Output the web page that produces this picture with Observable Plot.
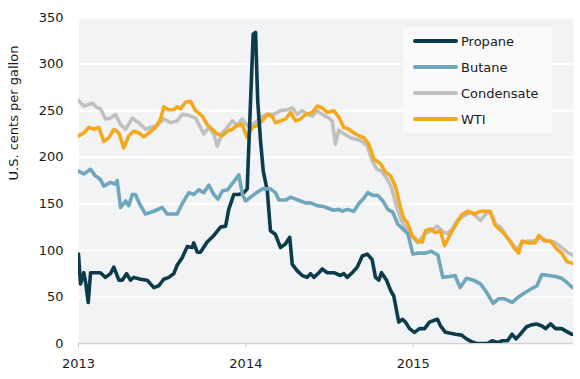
<!DOCTYPE html>
<html>
<head>
<meta charset="utf-8">
<script src="https://cdn.jsdelivr.net/npm/d3@7"></script>
<script src="https://cdn.jsdelivr.net/npm/@observablehq/plot@0.6"></script>
<style>
  html, body { margin: 0; padding: 0; background: #ffffff; }
  #wrap { position: relative; width: 580px; height: 379px; font-family: "DejaVu Sans", sans-serif; }
  #legend { position: absolute; left: 403px; top: 27px; width: 149px; height: 106px; background: #fafafa; }
  .row { position: absolute; left: 0; height: 20px; display: flex; align-items: center; }
  .sw { width: 45px; height: 4px; border-radius: 2px; margin-left: 10px; }
  .lb { margin-left: 3px; font-size: 13px; color: #1a1a1a; white-space: nowrap; }
</style>
</head>
<body>
<div id="wrap"></div>
<script>
// ---- data (decimal year, U.S. cents per gallon) ----
const seriesNames = ["Propane", "Butane", "Condensate", "WTI"];
const seriesColors = ["#0c3c4b", "#6ea7bb", "#c0c0c0", "#f6a81c"];
const yTicks = [0, 50, 100, 150, 200, 250, 300, 350];
const xTickYears = [2013, 2014, 2015];
const yLabel = "U.S. cents per gallon";

const propaneYear = [2013.000, 2013.012, 2013.032, 2013.044, 2013.058, 2013.072, 2013.101, 2013.131, 2013.161, 2013.191, 2013.211, 2013.241, 2013.261, 2013.287, 2013.310, 2013.330, 2013.370, 2013.410, 2013.450, 2013.479, 2013.509, 2013.539, 2013.569, 2013.589, 2013.619, 2013.649, 2013.679, 2013.688, 2013.709, 2013.728, 2013.768, 2013.808, 2013.848, 2013.878, 2013.897, 2013.927, 2013.957, 2013.987, 2014.007, 2014.027, 2014.043, 2014.057, 2014.070, 2014.087, 2014.103, 2014.127, 2014.146, 2014.176, 2014.206, 2014.236, 2014.261, 2014.276, 2014.306, 2014.336, 2014.365, 2014.385, 2014.405, 2014.435, 2014.455, 2014.485, 2014.524, 2014.564, 2014.584, 2014.604, 2014.634, 2014.664, 2014.694, 2014.724, 2014.753, 2014.773, 2014.793, 2014.809, 2014.839, 2014.863, 2014.882, 2014.912, 2014.934, 2014.952, 2014.976, 2015.006, 2015.036, 2015.066, 2015.095, 2015.125, 2015.143, 2015.161, 2015.191, 2015.221, 2015.251, 2015.287, 2015.316, 2015.346, 2015.376, 2015.406, 2015.442, 2015.469, 2015.501, 2015.531, 2015.561, 2015.588, 2015.612, 2015.633, 2015.651, 2015.675, 2015.704, 2015.734, 2015.764, 2015.788, 2015.818, 2015.848, 2015.884, 2015.913, 2015.943, 2015.958];
const propaneCents = [96, 64, 76, 64, 44, 76, 76, 76, 71, 75, 82, 68, 68, 75, 68, 71, 69, 68, 60, 62, 69, 71, 75, 84, 92, 104, 103, 108, 98, 98, 109, 116, 125, 126, 144, 160, 160, 162, 166, 260, 332, 334, 260, 217, 185, 164, 121, 117, 103, 107, 114, 85, 78, 73, 71, 75, 71, 76, 80, 76, 76, 73, 75, 71, 76, 82, 94, 96, 90, 71, 68, 76, 68, 57, 51, 23, 26, 23, 16, 12, 16, 16, 23, 25, 26, 19, 12, 11, 10, 9, 5, 2, 0, 0, 0, 3, 1, 3, 3, 10, 5, 9, 13, 18, 20, 21, 19, 16, 21, 16, 16, 13, 10, 10];

const butaneYear = [2013.000, 2013.032, 2013.072, 2013.101, 2013.131, 2013.151, 2013.191, 2013.221, 2013.231, 2013.251, 2013.281, 2013.300, 2013.321, 2013.340, 2013.370, 2013.400, 2013.450, 2013.500, 2013.530, 2013.589, 2013.619, 2013.659, 2013.688, 2013.718, 2013.748, 2013.778, 2013.808, 2013.833, 2013.860, 2013.890, 2013.919, 2013.937, 2013.957, 2013.979, 2013.997, 2014.027, 2014.063, 2014.099, 2014.146, 2014.176, 2014.196, 2014.236, 2014.266, 2014.296, 2014.325, 2014.355, 2014.385, 2014.425, 2014.464, 2014.494, 2014.524, 2014.554, 2014.574, 2014.604, 2014.644, 2014.673, 2014.703, 2014.727, 2014.757, 2014.787, 2014.817, 2014.847, 2014.876, 2014.906, 2014.936, 2014.966, 2014.996, 2015.026, 2015.066, 2015.106, 2015.145, 2015.175, 2015.215, 2015.248, 2015.278, 2015.316, 2015.358, 2015.400, 2015.436, 2015.475, 2015.507, 2015.546, 2015.588, 2015.627, 2015.669, 2015.707, 2015.737, 2015.766, 2015.806, 2015.848, 2015.884, 2015.913, 2015.949];
const butaneCents = [185, 182, 187, 180, 176, 169, 173, 171, 175, 146, 153, 148, 160, 160, 148, 139, 142, 146, 139, 139, 150, 162, 160, 165, 162, 170, 160, 155, 164, 165, 172, 176, 181, 160, 153, 157, 162, 166, 166, 162, 154, 154, 157, 155, 153, 151, 151, 148, 147, 145, 143, 144, 142, 144, 142, 150, 156, 162, 159, 159, 153, 144, 141, 128, 123, 118, 96, 97, 97, 99, 95, 71, 72, 73, 60, 70, 68, 64, 55, 43, 48, 48, 44, 50, 55, 59, 62, 74, 73, 72, 70, 66, 60];

const condensateYear = [2013.000, 2013.032, 2013.082, 2013.112, 2013.131, 2013.161, 2013.191, 2013.221, 2013.251, 2013.281, 2013.321, 2013.360, 2013.400, 2013.430, 2013.470, 2013.509, 2013.549, 2013.589, 2013.619, 2013.659, 2013.699, 2013.728, 2013.748, 2013.778, 2013.808, 2013.828, 2013.858, 2013.888, 2013.918, 2013.947, 2013.977, 2014.007, 2014.037, 2014.067, 2014.097, 2014.127, 2014.166, 2014.206, 2014.246, 2014.276, 2014.306, 2014.336, 2014.365, 2014.395, 2014.425, 2014.455, 2014.485, 2014.515, 2014.534, 2014.554, 2014.594, 2014.638, 2014.684, 2014.724, 2014.753, 2014.783, 2014.809, 2014.837, 2014.867, 2014.897, 2014.927, 2014.956, 2014.986, 2015.026, 2015.066, 2015.106, 2015.141, 2015.175, 2015.203, 2015.231, 2015.261, 2015.300, 2015.340, 2015.370, 2015.400, 2015.430, 2015.460, 2015.490, 2015.519, 2015.559, 2015.589, 2015.619, 2015.649, 2015.688, 2015.728, 2015.758, 2015.798, 2015.838, 2015.878, 2015.918, 2015.949];
const condensateCents = [261, 255, 258, 253, 252, 241, 242, 246, 235, 230, 242, 237, 230, 232, 234, 241, 237, 239, 246, 245, 242, 232, 225, 232, 225, 212, 226, 232, 239, 234, 241, 234, 235, 239, 244, 246, 246, 250, 251, 253, 246, 250, 246, 244, 250, 246, 243, 239, 214, 229, 224, 220, 218, 212, 196, 187, 185, 178, 168, 148, 132, 123, 116, 108, 118, 121, 126, 120, 118, 123, 132, 137, 141, 137, 132, 139, 141, 128, 125, 114, 107, 101, 109, 110, 110, 114, 110, 109, 104, 98, 95];

const wtiYear = [2013.000, 2013.032, 2013.061, 2013.091, 2013.121, 2013.151, 2013.181, 2013.211, 2013.241, 2013.270, 2013.300, 2013.330, 2013.360, 2013.390, 2013.420, 2013.460, 2013.490, 2013.509, 2013.539, 2013.569, 2013.589, 2013.609, 2013.639, 2013.669, 2013.699, 2013.739, 2013.768, 2013.798, 2013.828, 2013.858, 2013.888, 2013.918, 2013.947, 2013.977, 2014.007, 2014.037, 2014.067, 2014.097, 2014.127, 2014.156, 2014.176, 2014.206, 2014.236, 2014.266, 2014.296, 2014.325, 2014.355, 2014.395, 2014.425, 2014.455, 2014.485, 2014.524, 2014.554, 2014.584, 2014.614, 2014.644, 2014.673, 2014.703, 2014.733, 2014.763, 2014.803, 2014.833, 2014.863, 2014.893, 2014.922, 2014.942, 2014.962, 2014.992, 2015.022, 2015.052, 2015.072, 2015.101, 2015.131, 2015.161, 2015.185, 2015.221, 2015.251, 2015.287, 2015.322, 2015.364, 2015.397, 2015.430, 2015.457, 2015.487, 2015.525, 2015.567, 2015.599, 2015.627, 2015.648, 2015.687, 2015.725, 2015.748, 2015.782, 2015.818, 2015.851, 2015.884, 2015.915, 2015.949];
const wtiCents = [223, 226, 232, 230, 232, 217, 221, 230, 226, 210, 223, 228, 226, 222, 226, 232, 241, 254, 251, 251, 254, 252, 259, 260, 250, 244, 235, 230, 225, 223, 228, 230, 234, 235, 221, 232, 234, 239, 246, 244, 237, 239, 241, 248, 239, 241, 246, 248, 255, 253, 248, 250, 243, 232, 230, 226, 223, 221, 214, 198, 193, 184, 180, 168, 146, 134, 130, 116, 110, 109, 121, 123, 119, 121, 105, 118, 127, 138, 142, 139, 142, 142, 142, 127, 121, 112, 103, 97, 110, 108, 108, 116, 110, 110, 102, 97, 88, 86];

// ---- build table ----
const toDate = (y) => new Date(Date.UTC(2013, 0, 1) + (y - 2013) * 365.25 * 864e5);
const seriesData = {
  Propane: [propaneYear, propaneCents],
  Butane: [butaneYear, butaneCents],
  Condensate: [condensateYear, condensateCents],
  WTI: [wtiYear, wtiCents]
};
const drawOrder = ["Condensate", "WTI", "Propane", "Butane"];
const rows = [];
for (const name of drawOrder) {
  const [ys, vs] = seriesData[name];
  ys.forEach((y, i) => rows.push({ series: name, date: toDate(y), value: vs[i] }));
}
const xTicks = xTickYears.map((y) => new Date(Date.UTC(y, 0, 1)));

const chart = Plot.plot({
  width: 580,
  height: 379,
  marginLeft: 78,
  marginRight: 7,
  marginTop: 17,
  marginBottom: 36,
  style: { fontFamily: "'DejaVu Sans', sans-serif", fontSize: "13px", color: "#1a1a1a", background: "transparent" },
  x: { type: "utc", domain: [toDate(2013), toDate(2015.955)] },
  y: { domain: [0, 350] },
  color: { domain: seriesNames, range: seriesColors },
  marks: [
    Plot.frame({ fill: "#f2f3f4", stroke: null }),
    Plot.gridY(yTicks, { stroke: "#ffffff", strokeOpacity: 1, strokeWidth: 2 }),
    Plot.ruleY([0], { stroke: "#d2d2d2", strokeWidth: 1.5 }),
    Plot.axisX(xTicks, { tickSize: 5, tickPadding: 10, stroke: "#cfcfcf", tickFormat: (d) => String(d.getUTCFullYear()), label: null, fontSize: 13 }),
    Plot.axisY(yTicks, { tickSize: 0, tickPadding: 15, label: null, fontSize: 13 }),
    Plot.text([yLabel], { text: (d) => d, frameAnchor: "left", rotate: -90, dx: -65, fontSize: 13, fill: "#1a1a1a" }),
    Plot.line(rows, { x: "date", y: "value", z: "series", stroke: "series", strokeWidth: 3.6, strokeLinejoin: "round", strokeLinecap: "round", clip: true })
  ]
});

const wrap = document.getElementById("wrap");
wrap.appendChild(chart);

// legend overlay
const legend = document.createElement("div");
legend.id = "legend";
seriesNames.forEach((name, i) => {
  const row = document.createElement("div");
  row.className = "row";
  row.style.top = (4 + i * 26) + "px";
  const sw = document.createElement("div");
  sw.className = "sw";
  sw.style.background = seriesColors[i];
  const lb = document.createElement("span");
  lb.className = "lb";
  lb.textContent = name;
  row.appendChild(sw);
  row.appendChild(lb);
  legend.appendChild(row);
});
wrap.appendChild(legend);
</script>
</body>
</html>
